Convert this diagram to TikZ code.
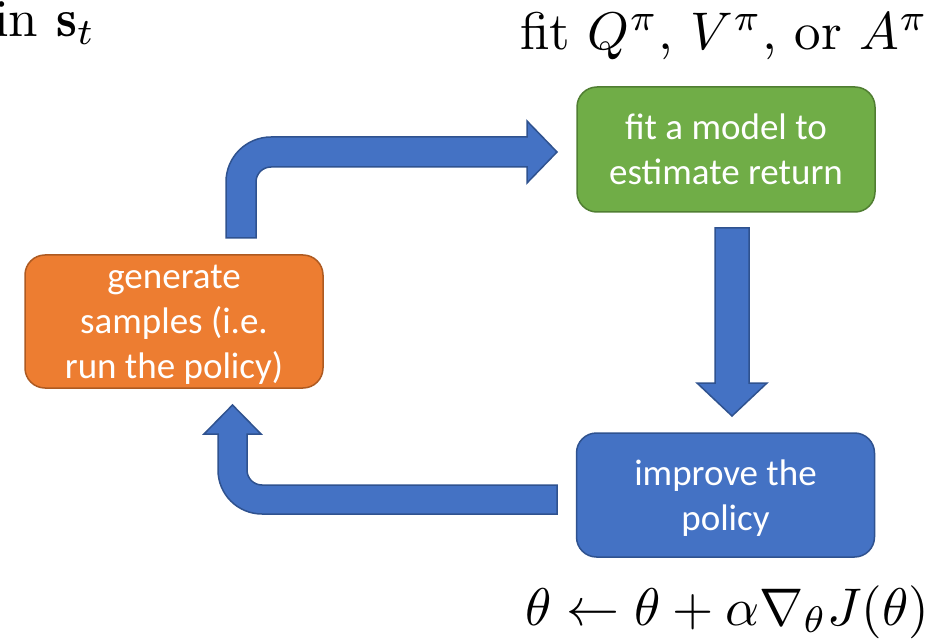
\documentclass[tikz,border=0pt]{standalone}
\usepackage{fontspec}
\usepackage{graphicx}
\newfontfamily\boxfont{Carlito}
\definecolor{orangefill}{HTML}{ED7D31}
\definecolor{orangeedge}{HTML}{AE5A21}
\definecolor{greenfill}{HTML}{70AD47}
\definecolor{greenedge}{HTML}{507E32}
\definecolor{bluefill}{HTML}{4472C4}
\definecolor{blueedge}{HTML}{2F528F}
\newcommand{\bigmath}[1]{\scalebox{5.3}{\fontsize{10}{12}\selectfont #1}}
\begin{document}
\begin{tikzpicture}[x=1pt,y=1pt,
  stepbox/.style={rounded corners=20pt, line width=1.5pt, minimum width=298pt,
    align=center, text=white, inner sep=0pt,
    font=\boxfont\fontsize{37}{45}\selectfont},
  blockarrow/.style={fill=bluefill, draw=blueedge, line width=1.5pt, line join=miter},
  mathlabel/.style={anchor=base west, inner sep=0pt}]
\useasboundingbox (0,0) rectangle (951,-639);
\fill[white] (0,0) rectangle (951,-639);

% boxes
\node[stepbox, fill=greenfill, draw=greenedge, minimum height=125pt] (fit) at (726,-149.5)
  {fit a model to\\estimate return};
\node[stepbox, fill=orangefill, draw=orangeedge, minimum height=133pt, text depth=0pt] (gen) at (174,-321.5)
  {generate\\samples (i.e.\\run the policy)};
\node[stepbox, fill=bluefill, draw=blueedge, minimum height=124pt, text depth=0pt] (imp) at (725.5,-495)
  {improve the\\policy};

% labels
\node[mathlabel] (lblS) at (-6,-37) {\bigmath{in $\mathbf{s}_t$}};
\node[mathlabel] (lblQ) at (520,-50) {\bigmath{fit $Q^\pi$, $V^\pi$, or $A^\pi$}};
\node[mathlabel] (lblT) at (525,-625) {\bigmath{$\theta \leftarrow \theta + \alpha\nabla_\theta J(\theta)$}};

% block arrows
\draw[blockarrow] (226,-238) -- (226,-182) arc[start angle=180, end angle=90, radius=45]
  -- (527,-137) -- (527,-121) -- (557,-152) -- (527,-183) -- (527,-167)
  -- (271,-167) arc[start angle=90, end angle=180, radius=15] -- (256,-238) -- cycle;
\draw[blockarrow] (715,-228) -- (749,-228) -- (749,-383) -- (767,-383) -- (732,-416)
  -- (697,-383) -- (715,-383) -- cycle;
\draw[blockarrow] (557,-485) -- (262,-485) arc[start angle=270, end angle=180, radius=15]
  -- (247,-434) -- (261,-434) -- (232.5,-405) -- (204,-434) -- (218,-434)
  -- (218,-470) arc[start angle=180, end angle=270, radius=44] -- (557,-514) -- cycle;
\end{tikzpicture}
\end{document}
